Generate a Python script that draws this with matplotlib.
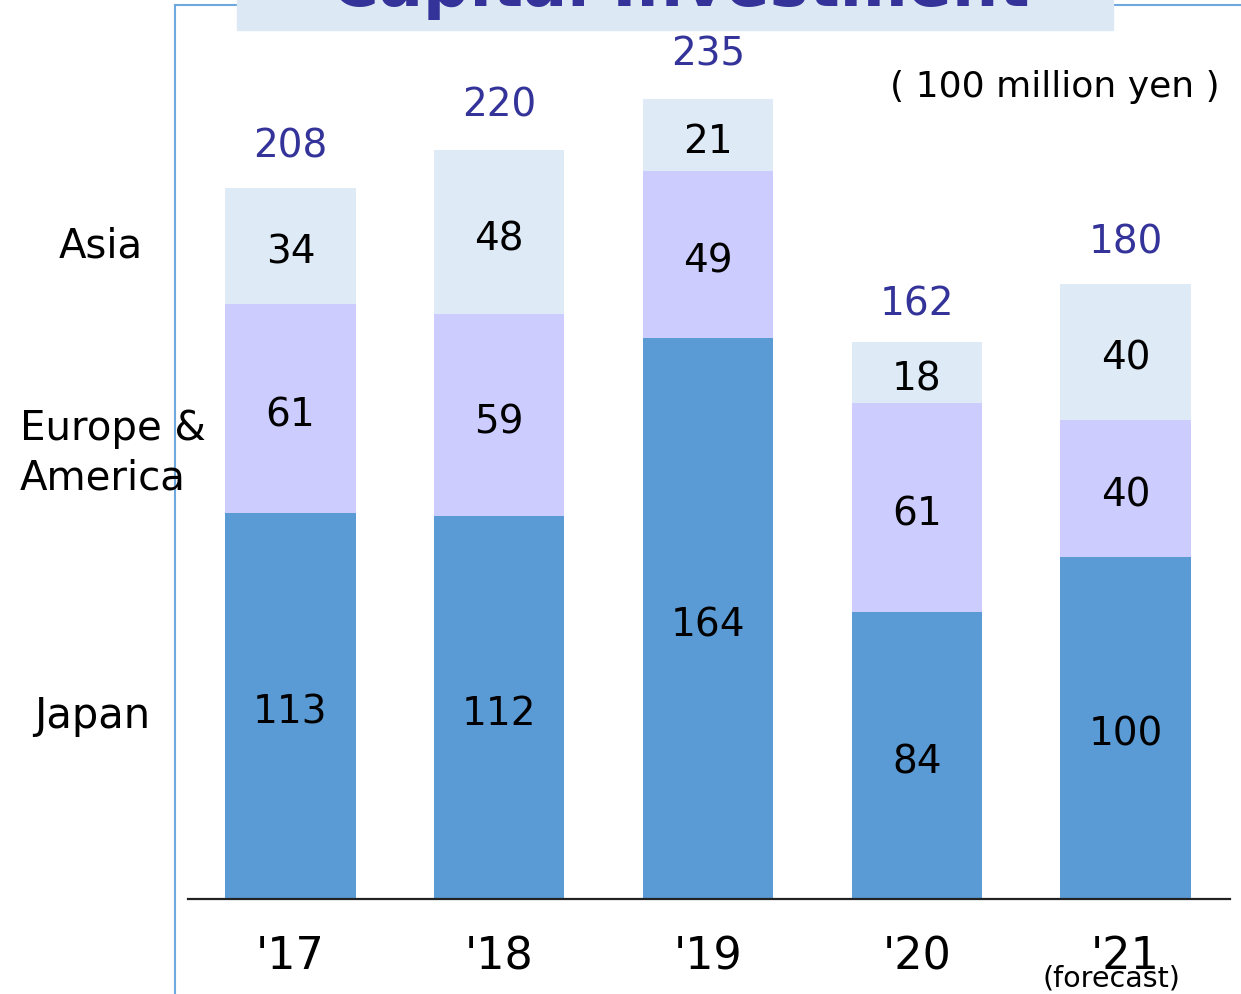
import matplotlib.pyplot as plt
from matplotlib.patches import Rectangle
from matplotlib.lines import Line2D

# values (100 million yen)
years = ["'17", "'18", "'19", "'20", "'21"]
japan = [113, 112, 164, 84, 100]
europe_america = [61, 59, 49, 61, 40]
asia = [34, 48, 21, 18, 40]
totals = [208, 220, 235, 162, 180]

c_japan = '#5b9bd5'
c_europe = '#ccccff'
c_asia = '#deeaf6'
c_total = '#333399'

W, H = 1241, 994
fig = plt.figure(figsize=(W / 100, H / 100), dpi=100)
ax = fig.add_axes([188 / W, (H - 899) / H, 1042 / W, 899 / H])

# stacked bars
x = list(range(len(years)))
bw = 0.625
bottom2 = [japan[i] for i in x]
bottom3 = [japan[i] + europe_america[i] for i in x]
ax.bar(x, japan, width=bw, color=c_japan, zorder=2)
ax.bar(x, europe_america, width=bw, bottom=bottom2, color=c_europe, zorder=2)
ax.bar(x, asia, width=bw, bottom=bottom3, color=c_asia, zorder=2)

# segment labels + totals
lab_fs = 28
for i in x:
    ax.text(i, japan[i] / 2 - 2, str(japan[i]), ha='center', va='center', fontsize=lab_fs)
    ax.text(i, bottom2[i] + europe_america[i] / 2 - 2, str(europe_america[i]),
            ha='center', va='center', fontsize=lab_fs)
    ax.text(i, bottom3[i] + asia[i] / 2 - 2, str(asia[i]), ha='center', va='center', fontsize=lab_fs)
    ax.text(i, totals[i] + 12, str(totals[i]), ha='center', va='center', fontsize=lab_fs, color=c_total)

ax.set_xlim(-0.49, 4.50)
ax.set_ylim(0, 263)
for s in ['top', 'right', 'left']:
    ax.spines[s].set_visible(False)
ax.spines['bottom'].set_linewidth(1.6)
ax.spines['bottom'].set_color('#222222')
ax.set_yticks([])
ax.set_xticks(x)
ax.set_xticklabels(years, fontsize=32)
ax.tick_params(axis='x', length=0, pad=26)
ax.patch.set_alpha(0)

# "(forecast)" under '21 (overlaps it a bit, as on the slide)
fig.text(1111 / W, (H - 978) / H, '(forecast)', ha='center', va='center', fontsize=20.5)

# unit note
fig.text(1220 / W, (H - 87) / H, '( 100 million yen )', ha='right', va='center', fontsize=26)

# region names on the left
fig.text(101 / W, (H - 246) / H, 'Asia', ha='center', va='center', fontsize=29)
fig.text(20 / W, (H - 454) / H, 'Europe &\nAmerica', ha='left', va='center', fontsize=29,
         linespacing=1.3)
fig.text(92 / W, (H - 716) / H, 'Japan', ha='center', va='center', fontsize=30)

# frame lines of the slide
frame = '#6fa8dc'
fig.add_artist(Line2D([175 / W, 175 / W], [0, (H - 5) / H], color=frame, lw=1.5))
fig.add_artist(Line2D([175 / W, 1], [(H - 5) / H, (H - 5) / H], color=frame, lw=1.5))

# title box, cut off at the top as on the slide
fig.add_artist(Rectangle((237 / W, (H - 30) / H), 876 / W, 30 / H, transform=fig.transFigure,
                         color='#dde8f5', zorder=3))
fig.text(680 / W, (H - 6) / H, 'Capital Investment', ha='center', va='baseline', fontsize=47,
         fontweight='bold', color=c_total, zorder=4)

fig.savefig('out.png', dpi=100)
